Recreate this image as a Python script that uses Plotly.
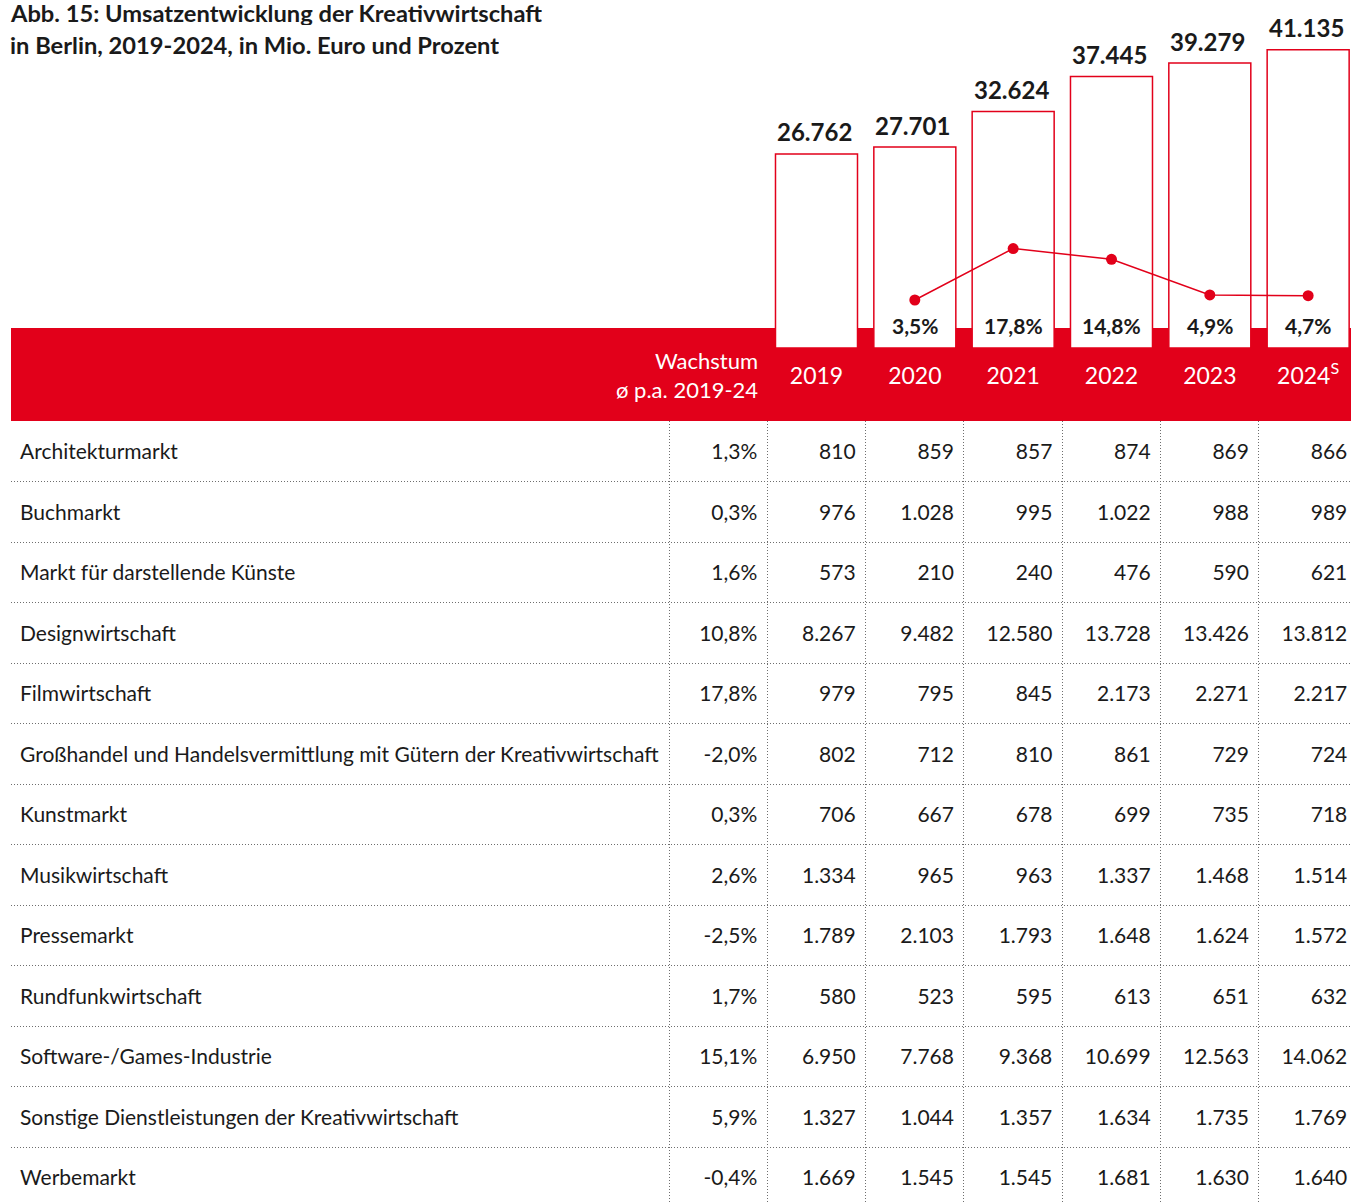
import plotly.graph_objects as go

# ---------------- data ----------------
years = ["2019", "2020", "2021", "2022", "2023", "2024"]
year_labels = ["2019", "2020", "2021", "2022", "2023", "2024<sup>S</sup>"]
totals = [26762, 27701, 32624, 37445, 39279, 41135]
total_growth = [None, 3.5, 17.8, 14.8, 4.9, 4.7]

sectors = [
    "Architekturmarkt",
    "Buchmarkt",
    "Markt für darstellende Künste",
    "Designwirtschaft",
    "Filmwirtschaft",
    "Großhandel und Handelsvermittlung mit Gütern der Kreativwirtschaft",
    "Kunstmarkt",
    "Musikwirtschaft",
    "Pressemarkt",
    "Rundfunkwirtschaft",
    "Software-/Games-Industrie",
    "Sonstige Dienstleistungen der Kreativwirtschaft",
    "Werbemarkt",
]
growth_avg = [1.3, 0.3, 1.6, 10.8, 17.8, -2.0, 0.3, 2.6, -2.5, 1.7, 15.1, 5.9, -0.4]
v2019 = [810, 976, 573, 8267, 979, 802, 706, 1334, 1789, 580, 6950, 1327, 1669]
v2020 = [859, 1028, 210, 9482, 795, 712, 667, 965, 2103, 523, 7768, 1044, 1545]
v2021 = [857, 995, 240, 12580, 845, 810, 678, 963, 1793, 595, 9368, 1357, 1545]
v2022 = [874, 1022, 476, 13728, 2173, 861, 699, 1337, 1648, 613, 10699, 1634, 1681]
v2023 = [869, 988, 590, 13426, 2271, 729, 735, 1468, 1624, 651, 12563, 1735, 1630]
v2024 = [866, 989, 621, 13812, 2217, 724, 718, 1514, 1572, 632, 14062, 1769, 1640]

title_lines = [
    "Abb. 15: Umsatzentwicklung der Kreativwirtschaft",
    "in Berlin, 2019-2024, in Mio. Euro und Prozent",
]
growth_header = "Wachstum<br>ø p.a. 2019-24"

# ---------------- styling / geometry (pixels) ----------------
W, H = 1351, 1203
RED = "#E2001A"
INK = "#1a1a1a"
FONT = "Lato"
GRID = "#6e6e6e"
DOTS = "1px,2px"

LEFT, RIGHT = 11, 1351
BAND_TOP, BAND_BOT = 328, 421
COL0 = 669          # left edge of first numeric column
COLW = 98.33        # numeric column width
ROWH = 60.5         # table row height
BAR_BASE = 348      # bar baseline
PX_PER_EUR = 7.253e-3
PCT_PX = 3.6        # px per percentage point
PCT_REF = (3.5, 300)
TEXT_NUDGE = 2.5    # px


def fx(p):
    return p / W


def fy(p):
    return 1 - p / H


def de(v, dec=0):
    s = f"{v:,.{dec}f}"
    return s.replace(",", "X").replace(".", ",").replace("X", ".")


fig = go.Figure()

# ---------------- top chart: bars + growth line ----------------
fig.add_trace(go.Bar(
    x=years, y=totals, xaxis="x", yaxis="y",
    marker=dict(color="white", line=dict(color=RED, width=1.5)),
    cliponaxis=False, hoverinfo="skip", showlegend=False,
))
gx = [y for y, g in zip(years, total_growth) if g is not None]
gy = [g for g in total_growth if g is not None]
fig.add_trace(go.Scatter(
    x=gx, y=gy, xaxis="x", yaxis="y2", mode="lines+markers",
    line=dict(color=RED, width=1.5), marker=dict(color=RED, size=11),
    cliponaxis=False, hoverinfo="skip", showlegend=False,
))

annotations = []
for i, t in enumerate(totals):
    annotations.append(dict(
        x=i, y=t, xref="x", yref="y", text=f"<b>{de(t)}</b>",
        showarrow=False, yanchor="middle", yshift=22, xshift=-2,
        font=dict(family=FONT, size=24, color=INK),
    ))
for i, g in enumerate(total_growth):
    if g is None:
        continue
    annotations.append(dict(
        x=i, y=0, xref="x", yref="y", text=f"<b>{de(g, 1)}%</b>",
        showarrow=False, yanchor="middle", yshift=BAR_BASE - 325,
        font=dict(family=FONT, size=21, color=INK),
    ))

# title
for i, line in enumerate(title_lines):
    annotations.append(dict(
        x=fx(LEFT - 2), y=fy(13 + 32 * i), xref="paper", yref="paper",
        xanchor="left", yanchor="middle", text=f"<b>{line}</b>",
        height=24, borderpad=0, valign="middle",
        showarrow=False, font=dict(family=FONT, size=23.7, color=INK),
    ))

# header growth label
annotations.append(dict(
    x=fx(COL0 + COLW - 7), y=fy(375), xref="paper", yref="paper",
    xanchor="right", yanchor="middle", align="right", text=growth_header,
    showarrow=False, font=dict(family=FONT, size=22, color="white"),
))

# ---------------- table ----------------
n_rows = len(sectors)
row_y = [i + 0.5 + TEXT_NUDGE / ROWH for i in range(n_rows)]
x_lo = (LEFT - COL0) / COLW
x_hi = (RIGHT - COL0) / COLW

fig.add_trace(go.Scatter(
    x=[x_lo + 9 / COLW] * n_rows, y=row_y, xaxis="x2", yaxis="y3",
    mode="text", text=sectors, textposition="middle right",
    textfont=dict(family=FONT, size=21, color=INK),
    hoverinfo="skip", showlegend=False, cliponaxis=False,
))

columns = [
    [de(g, 1) + "%" for g in growth_avg],
    [de(v) for v in v2019],
    [de(v) for v in v2020],
    [de(v) for v in v2021],
    [de(v) for v in v2022],
    [de(v) for v in v2023],
    [de(v) for v in v2024],
]
for ci, col in enumerate(columns):
    fig.add_trace(go.Scatter(
        x=[ci + 1 - 10 / COLW] * n_rows, y=row_y, xaxis="x2", yaxis="y3",
        mode="text", text=col, textposition="middle left",
        textfont=dict(family=FONT, size=21, color=INK),
        hoverinfo="skip", showlegend=False, cliponaxis=False,
    ))

shapes = [dict(
    type="rect", xref="paper", yref="paper",
    x0=fx(LEFT), x1=fx(RIGHT), y0=fy(BAND_BOT), y1=fy(BAND_TOP),
    fillcolor=RED, line=dict(width=0), layer="below",
)]

y_max = BAR_BASE / PX_PER_EUR
p0 = PCT_REF[0] - (BAR_BASE - PCT_REF[1]) / PCT_PX
p1 = p0 + BAR_BASE / PCT_PX

fig.update_layout(
    width=W, height=H, margin=dict(l=0, r=0, t=0, b=0),
    paper_bgcolor="white", plot_bgcolor="rgba(0,0,0,0)",
    bargap=1 - 82 / COLW,
    showlegend=False,
    annotations=annotations, shapes=shapes,
    xaxis=dict(
        domain=[fx(COL0 + COLW), 1], type="category", categoryarray=years,
        range=[-0.5, -0.5 + (RIGHT - COL0 - COLW) / COLW],
        tickvals=years, ticktext=year_labels,
        ticks="outside", ticklen=7, tickcolor="rgba(0,0,0,0)",
        tickfont=dict(family=FONT, size=23, color="white"),
        showgrid=False, zeroline=False, showline=False, anchor="y",
        fixedrange=True,
    ),
    yaxis=dict(
        domain=[fy(BAR_BASE), 1], range=[0, y_max], visible=False,
        fixedrange=True, anchor="x",
    ),
    yaxis2=dict(
        domain=[fy(BAR_BASE), 1], range=[p0, p1], visible=False,
        overlaying="y", fixedrange=True, anchor="x",
    ),
    xaxis2=dict(
        domain=[fx(LEFT), 1], range=[x_lo, x_hi], anchor="y3",
        tickvals=list(range(0, 7)), showticklabels=False, ticks="",
        showgrid=True, gridcolor=GRID, gridwidth=1, griddash=DOTS,
        zeroline=False, showline=False, fixedrange=True,
    ),
    yaxis3=dict(
        domain=[0, fy(BAND_BOT)], range=[(H - BAND_BOT) / ROWH, 0],
        anchor="x2", tickvals=list(range(1, n_rows)), showticklabels=False,
        ticks="", showgrid=True, gridcolor=GRID, gridwidth=1, griddash=DOTS,
        zeroline=False, showline=False, fixedrange=True,
    ),
)

fig.write_html(
    "out.html",
    config={"displayModeBar": False},
    post_script="document.body.style.margin='0';document.body.style.overflow='hidden';",
)
